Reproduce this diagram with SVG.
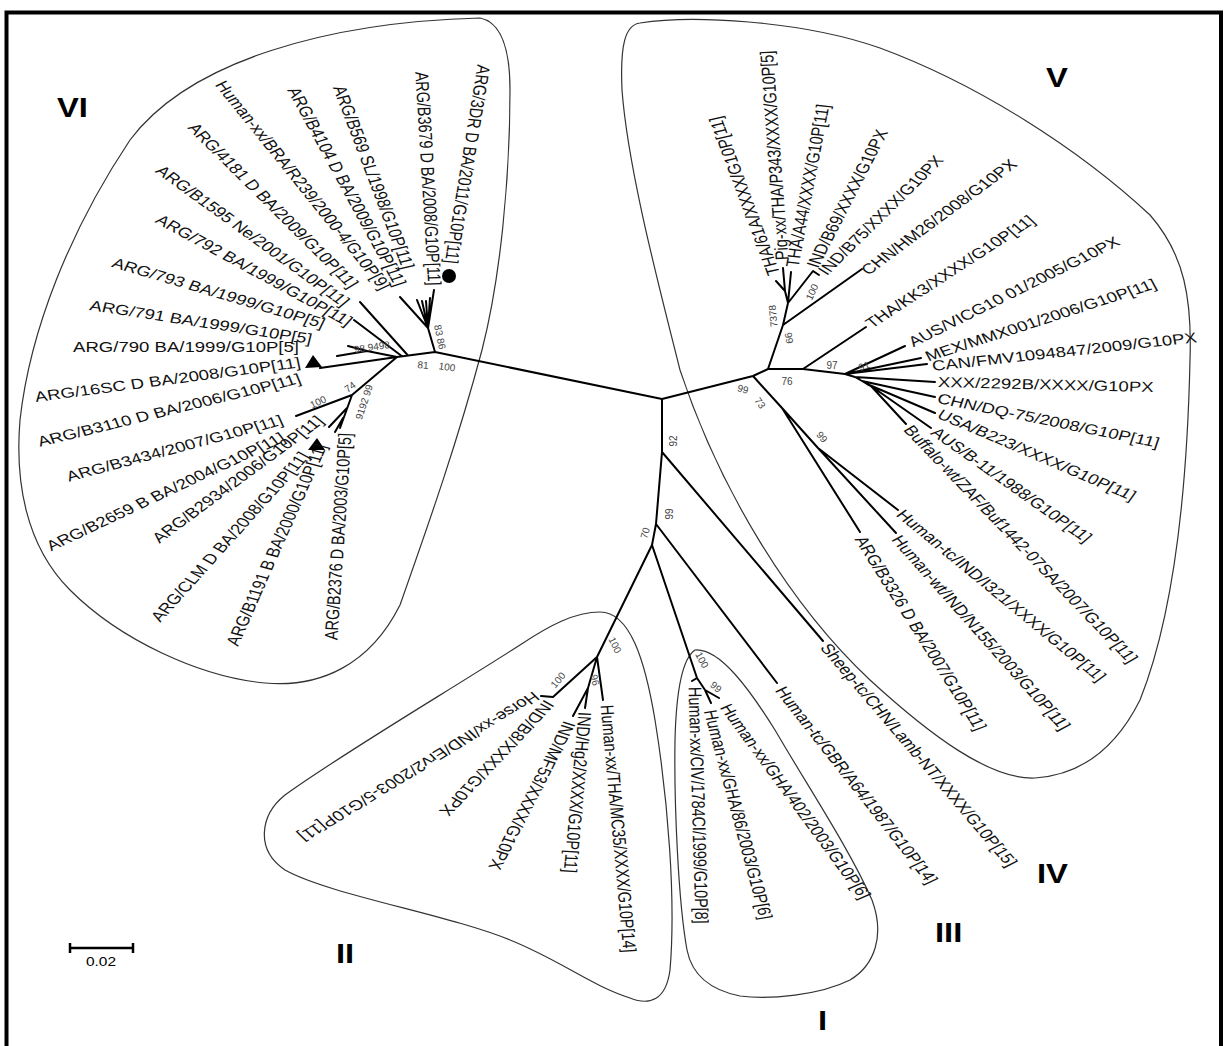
<svg xmlns="http://www.w3.org/2000/svg" width="1227" height="1046" viewBox="0 0 1227 1046">
<style>
.t{font-family:"Liberation Sans",Arial,sans-serif;font-size:14.4px;fill:#111}
.b{font-family:"Liberation Sans",Arial,sans-serif;font-size:10px;fill:#444;text-anchor:middle}
.r{font-family:"Liberation Sans",Arial,sans-serif;font-size:28px;font-weight:bold;fill:#000}
.e{fill:none;stroke:#000;stroke-width:2;stroke-linecap:round;stroke-linejoin:round}
.o{fill:none;stroke:#333;stroke-width:1.2}
</style>
<rect x="0" y="0" width="1227" height="1046" fill="#fff"/>
<rect x="6.5" y="12.5" width="1214.5" height="1045" fill="none" stroke="#000" stroke-width="4"/>

<g id="clusters">
<path id="cluster-VI" class="o" d="M480,18 C500,22 510,45 510,90 C510,180 500,280 482,350 C458,440 430,520 400,605 C370,665 320,688 265,683 C200,677 120,640 70,590 C25,545 15,480 20,420 C30,330 70,230 130,140 C190,60 330,22 480,18 Z"/>
<path id="cluster-V" class="o" d="M640,23 C690,15 800,20 880,48 C980,85 1080,150 1150,215 C1185,255 1192,300 1190,360 C1188,450 1180,600 1140,700 C1115,750 1080,775 1035,778 C990,780 930,735 870,680 C790,605 720,490 680,370 C660,290 628,170 622,90 C620,45 625,25 640,23 Z"/>
<path id="cluster-II" class="o" d="M600,612 C630,612 645,660 655,720 C668,800 676,900 670,970 C666,1000 650,1006 630,998 C590,985 560,960 510,940 C450,915 330,895 285,870 C255,850 260,815 285,795 C340,755 450,690 520,645 C550,625 575,612 600,612 Z"/>
<path id="cluster-I" class="o" d="M695,650 C720,648 750,690 775,730 C810,790 850,850 872,900 C885,935 875,965 850,980 C820,995 770,1000 740,996 C710,990 692,975 687,950 C678,900 674,800 675,740 C676,700 680,660 695,650 Z"/>
</g>

<g id="connectors">
<path class="e" d="M662,399 L435,352 M435,352 L428,328 M428,328 L434,290 M428,328 L430,298 M428,328 L426,301 M428,328 L422,301 M428,328 L417,300 M428,328 L400,297 M435,352 L397,357 M408,355.5 L360,302 M402,356.3 L354,320 M397,357 L367,351 L337,356 M367,351 L348,346 M397,357 L320,368 M397,357 L352,395 M352,395 L296,416 M352,395 L340,428 M347,408 L329,427 M343,418 L335,432"/>
<path class="e" d="M662,399 L753,376 L768,369 M753,376 L782,408 L860,532 M782,408 L818,448 L898,510 M818,448 L896,533 M768,369 L783,325 L862,269 M783,325 L788,303 L785,291 L776,281 M785,291 L783,268 M788,303 L791,272 M788,303 L813,271 L819,275 M768,369 L803,369 L866,327 M803,369 L845,374 L905,346 M845,374 L921,358 M845,374 L927,364 M845,374 L855,377 L935,382 M855,377 L862,381 L935,397 M862,381 L867,384 L935,413 M867,384 L871,386 L931,428 M871,386 L906,424"/>
<path class="e" d="M662,399 L662,452 L823,641 M662,452 L656,524 L777,683 M656,524 L652,545 L697,678 L692,681 M697,678 L705,690 L711,703 M705,690 L719,698 M652,545 L597,657 L553,697 L541,696 M597,657 L588,688 L585,708 M588,688 L573,716 M597,657 L603,700"/>
<polygon points="313,355 305,368 322,367" fill="#000"/>
<polygon points="317,438 308,450 325,450" fill="#000"/>
<circle cx="449" cy="276" r="7" fill="#000"/>
</g>

<g id="bootstrap">
<text class="b" transform="translate(440,337) rotate(78)" dy="3.5">83 86</text>
<text class="b" transform="translate(423,365) rotate(5)" dy="3.5">81</text>
<text class="b" transform="translate(447,367) rotate(8)" dy="3.5">100</text>
<text class="b" transform="translate(372,347) rotate(-8)" dy="3.5">98 9498</text>
<text class="b" transform="translate(350,387) rotate(-35)" dy="3.5">74</text>
<text class="b" transform="translate(318,402) rotate(-25)" dy="3.5">100</text>
<text class="b" transform="translate(364,402) rotate(-72)" dy="3.5">9192 99</text>
<text class="b" transform="translate(743,389) rotate(15)" dy="3.5">99</text>
<text class="b" transform="translate(760,403) rotate(55)" dy="3.5">73</text>
<text class="b" transform="translate(787,381)" dy="3.5">76</text>
<text class="b" transform="translate(789,338) rotate(78)" dy="3.5">99</text>
<text class="b" transform="translate(773,316) rotate(-95)" dy="3.5">7378</text>
<text class="b" transform="translate(812,292) rotate(-65)" dy="3.5">100</text>
<text class="b" transform="translate(832,365)" dy="3.5">97</text>
<text class="b" transform="translate(864,366) rotate(-20)" dy="3.5">91</text>
<text class="b" transform="translate(822,437) rotate(50)" dy="3.5">99</text>
<text class="b" transform="translate(673,441) rotate(-90)" dy="3.5">92</text>
<text class="b" transform="translate(669,514) rotate(-90)" dy="3.5">99</text>
<text class="b" transform="translate(645,533) rotate(-75)" dy="3.5">70</text>
<text class="b" transform="translate(702,660) rotate(62)" dy="3.5">100</text>
<text class="b" transform="translate(716,687) rotate(40)" dy="3.5">99</text>
<text class="b" transform="translate(615,645) rotate(65)" dy="3.5">100</text>
<text class="b" transform="translate(595,680) rotate(75)" dy="3.5">96</text>
<text class="b" transform="translate(558,680) rotate(-50)" dy="3.5">100</text>
</g>

<g id="leaf-arg-3dr"><text class="t" transform="translate(484,65) scale(1.29,1) rotate(97.3)" dy="5">ARG/3DR D BA/2011/G10P[11]</text></g>
<g id="leaf-arg-b3679"><text class="t" transform="translate(421.7,71.7) scale(1.29,1) rotate(87.3)" dy="5">ARG/B3679 D BA/2008/G10P[11]</text></g>
<g id="leaf-arg-b569"><text class="t" transform="translate(339,86) scale(1.29,1) rotate(73.5)" dy="5">ARG/B569 SL/1998/G10P[11]</text></g>
<g id="leaf-arg-b4104"><text class="t" transform="translate(293,88) scale(1.29,1) rotate(67)" dy="5">ARG/B4104 D BA/2009/G10P[11]</text></g>
<g id="leaf-human-bra"><text class="t" transform="translate(220,82) scale(1.29,1) rotate(58)" dy="5">Human-xx/BRA/R239/2000-4/G10P[9]</text></g>
<g id="leaf-arg-4181"><text class="t" transform="translate(192,125) scale(1.29,1) rotate(52)" dy="5">ARG/4181 D BA/2009/G10P[11]</text></g>
<g id="leaf-arg-b1595"><text class="t" transform="translate(159,168) scale(1.29,1) rotate(43)" dy="5">ARG/B1595 Ne/2001/G10P[11]</text></g>
<g id="leaf-arg-792"><text class="t" transform="translate(158,218) scale(1.29,1) rotate(35)" dy="5">ARG/792 BA/1999/G10P[11]</text></g>
<g id="leaf-arg-793"><text class="t" transform="translate(113,262) scale(1.29,1) rotate(20.7)" dy="5">ARG/793 BA/1999/G10P[5]</text></g>
<g id="leaf-arg-791"><text class="t" transform="translate(90,305) scale(1.29,1) rotate(11.2)" dy="5">ARG/791 BA/1999/G10P[5]</text></g>
<g id="leaf-arg-790"><text class="t" transform="translate(73,347) scale(1.29,1)" dy="5">ARG/790 BA/1999/G10P[5]</text></g>
<g id="leaf-arg-16sc"><text class="t" transform="translate(35,397) scale(1.29,1) rotate(-9.6)" dy="5">ARG/16SC D BA/2008/G10P[11]</text></g>
<g id="leaf-arg-b3110"><text class="t" transform="translate(38,442) scale(1.29,1) rotate(-17.5)" dy="5">ARG/B3110 D BA/2006/G10P[11]</text></g>
<g id="leaf-arg-b3434"><text class="t" transform="translate(67,477) scale(1.29,1) rotate(-19)" dy="5">ARG/B3434/2007/G10P[11]</text></g>
<g id="leaf-arg-b2659"><text class="t" transform="translate(48,547) scale(1.29,1) rotate(-31.3)" dy="5">ARG/B2659 B BA/2004/G10P[11]</text></g>
<g id="leaf-arg-b2934"><text class="t" transform="translate(155,540) scale(1.29,1) rotate(-43.5)" dy="5">ARG/B2934/2006/G10P[11]</text></g>
<g id="leaf-arg-clm"><text class="t" transform="translate(155,620) scale(1.29,1) rotate(-55.1)" dy="5">ARG/CLM D BA/2008/G10P[11]</text></g>
<g id="leaf-arg-b1191"><text class="t" transform="translate(232,645) scale(1.29,1) rotate(-71)" dy="5">ARG/B1191 B BA/2000/G10P[11]</text></g>
<g id="leaf-arg-b2376"><text class="t" transform="translate(331,640) scale(1.29,1) rotate(-87)" dy="5">ARG/B2376 D BA/2003/G10P[5]</text></g>

<g id="leaf-tha-61a"><text class="t" transform="translate(774,275) scale(1.29,1) rotate(-106.2)" dy="5">THA/61A/XXXX/G10P[11]</text></g>
<g id="leaf-pig-tha"><text class="t" transform="translate(782,260) scale(1.29,1) rotate(-93.3)" dy="5">Pig-xx/THA/P343/XXXX/G10P[5]</text></g>
<g id="leaf-tha-a44"><text class="t" transform="translate(792,267) scale(1.29,1) rotate(-81.6)" dy="5">THA/A44/XXXX/G10P[11]</text></g>
<g id="leaf-ind-b69"><text class="t" transform="translate(812,267) scale(1.29,1) rotate(-68.3)" dy="5">IND/B69/XXXX/G10PX</text></g>
<g id="leaf-ind-b75"><text class="t" transform="translate(822,273) scale(1.29,1) rotate(-51.8)" dy="5">IND/B75/XXXX/G10PX</text></g>
<g id="leaf-chn-hm26"><text class="t" transform="translate(864,272) scale(1.29,1) rotate(-43.5)" dy="5">CHN/HM26/2008/G10PX</text></g>
<g id="leaf-tha-kk3"><text class="t" transform="translate(868,325) scale(1.29,1) rotate(-40)" dy="5">THA/KK3/XXXX/G10P[11]</text></g>
<g id="leaf-aus-vicg10"><text class="t" transform="translate(910,343) scale(1.29,1) rotate(-32.6)" dy="5">AUS/VICG10 01/2005/G10PX</text></g>
<g id="leaf-mex-mmx001"><text class="t" transform="translate(926,357) scale(1.29,1) rotate(-22.6)" dy="5">MEX/MMX001/2006/G10P[11]</text></g>
<g id="leaf-can-fmv"><text class="t" transform="translate(932,366) scale(1.29,1) rotate(-8)" dy="5">CAN/FMV1094847/2009/G10PX</text></g>
<g id="leaf-xxx-2292b"><text class="t" transform="translate(938,382) scale(1.29,1) rotate(1.7)" dy="5">XXX/2292B/XXXX/G10PX</text></g>
<g id="leaf-chn-dq75"><text class="t" transform="translate(938,398) scale(1.29,1) rotate(14.7)" dy="5">CHN/DQ-75/2008/G10P[11]</text></g>
<g id="leaf-usa-b223"><text class="t" transform="translate(939,413) scale(1.29,1) rotate(28.9)" dy="5">USA/B223/XXXX/G10P[11]</text></g>
<g id="leaf-aus-b11"><text class="t" transform="translate(934,430) scale(1.29,1) rotate(42.3)" dy="5">AUS/B-11/1988/G10P[11]</text></g>
<g id="leaf-buffalo"><text class="t" transform="translate(908,427) scale(1.29,1) rotate(53.2)" dy="5">Buffalo-wt/ZAF/Buf1442-07SA/2007/G10P[11]</text></g>
<g id="leaf-human-i321"><text class="t" transform="translate(900,512) scale(1.29,1) rotate(46.7)" dy="5">Human-tc/IND/I321/XXXX/G10P[11]</text></g>
<g id="leaf-human-n155"><text class="t" transform="translate(896,537) scale(1.29,1) rotate(55.4)" dy="5">Human-wt/IND/N155/2003/G10P[11]</text></g>
<g id="leaf-arg-b3326"><text class="t" transform="translate(860,537) scale(1.29,1) rotate(63.9)" dy="5">ARG/B3326 D BA/2007/G10P[11]</text></g>
<g id="leaf-sheep"><text class="t" transform="translate(825,645) scale(1.29,1) rotate(56.5)" dy="5">Sheep-tc/CHN/Lamb-NT/XXXX/G10P[15]</text></g>
<g id="leaf-human-gbr"><text class="t" transform="translate(780,688) scale(1.29,1) rotate(58.6)" dy="5">Human-tc/GBR/A64/1987/G10P[14]</text></g>
<g id="leaf-human-gha402"><text class="t" transform="translate(725,705) scale(1.29,1) rotate(60.4)" dy="5">Human-xx/GHA/402/2003/G10P[6]</text></g>
<g id="leaf-human-gha86"><text class="t" transform="translate(710,710) scale(1.29,1) rotate(78.2)" dy="5">Human-xx/GHA/86/2003/G10P[6]</text></g>
<g id="leaf-human-civ"><text class="t" transform="translate(695,687) scale(1.29,1) rotate(88.7)" dy="5">Human-xx/CIV/1784CI/1999/G10P[8]</text></g>
<g id="leaf-human-tha"><text class="t" transform="translate(607,705) scale(1.29,1) rotate(85.9)" dy="5">Human-xx/THA/MC35/XXXX/G10P[14]</text></g>
<g id="leaf-ind-hg2"><text class="t" transform="translate(585,712) scale(1.29,1) rotate(94.1)" dy="5">IND/Hg2/XXXX/G10P[11]</text></g>
<g id="leaf-ind-mf53"><text class="t" transform="translate(570,722) scale(1.29,1) rotate(111.8)" dy="5">IND/MF53/XXXX/G10PX</text></g>
<g id="leaf-ind-b8"><text class="t" transform="translate(550,702) scale(1.29,1) rotate(126.3)" dy="5">IND/B8/XXXX/G10PX</text></g>
<g id="leaf-horse"><text class="t" transform="translate(537,695) scale(1.29,1) rotate(141.9)" dy="5">Horse-xx/IND/Erv2/2003-5/G10P[11]</text></g>

<g id="cluster-labels">
<text class="r" transform="translate(57,117) scale(1.17,1)">VI</text>
<text class="r" transform="translate(1046,87) scale(1.17,1)">V</text>
<text class="r" transform="translate(1037,883) scale(1.17,1)">IV</text>
<text class="r" transform="translate(935,942) scale(1.17,1)">III</text>
<text class="r" transform="translate(336,963) scale(1.17,1)">II</text>
<text class="r" transform="translate(818,1030) scale(1.17,1)">I</text>
</g>

<g id="scale-bar">
<path d="M70,948 H133 M70,943 V953 M133,943 V953" fill="none" stroke="#000" stroke-width="2.5"/>
<text transform="translate(101,966) scale(1.29,1)" text-anchor="middle" style="font-family:'Liberation Sans',Arial,sans-serif;font-size:12px;fill:#000">0.02</text>
</g>
</svg>
